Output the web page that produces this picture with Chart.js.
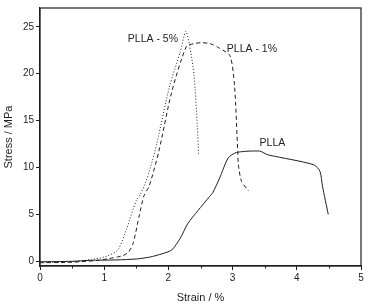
<!DOCTYPE html>
<html>
<head>
<meta charset="utf-8">
<script src="https://cdn.jsdelivr.net/npm/chart.js@4/dist/chart.umd.min.js"></script>
<style>
  html, body { margin: 0; padding: 0; background: #fff; }
  #wrap { width: 369px; height: 305px; }
</style>
</head>
<body>
<div id="wrap"><canvas id="stressChart"></canvas></div>
<script>
// stress-strain curves
const strainPlla5 = [0, 0.5, 0.8, 1.0, 1.21, 1.35, 1.5, 1.56, 1.65, 1.79, 2.02, 2.18, 2.27, 2.33, 2.40, 2.45, 2.47];
const stressPlla5 = [-0.1, -0.05, 0.2, 0.45, 1.2, 3.5, 6.5, 7.1, 8.5, 11.7, 18.7, 22.2, 24.5, 23.0, 19.8, 14.5, 11.4];

const strainPlla1 = [0, 0.5, 0.9, 1.08, 1.29, 1.38, 1.45, 1.55, 1.62, 1.7, 1.85, 2.05, 2.28, 2.40, 2.51, 2.65, 2.80, 2.96, 3.03, 3.08, 3.09, 3.14, 3.25];
const stressPlla1 = [-0.15, -0.1, 0.1, 0.3, 0.6, 1.0, 1.9, 5.0, 7.0, 8.0, 11.7, 18.0, 22.9, 23.2, 23.3, 23.2, 22.7, 21.9, 18.7, 11.7, 10.3, 8.5, 7.5];

const strainPlla = [0, 0.5, 0.77, 1.2, 1.5, 1.71, 1.9, 2.05, 2.18, 2.3, 2.46, 2.64, 2.69, 2.80, 2.93, 3.06, 3.42, 3.53, 3.58, 4.26, 4.36, 4.40, 4.49];
const stressPlla = [-0.05, 0, 0.1, 0.15, 0.25, 0.45, 0.8, 1.2, 2.4, 4.0, 5.4, 6.9, 7.3, 8.9, 11.0, 11.6, 11.75, 11.4, 11.3, 10.3, 9.6, 8.0, 5.0];

const seriesNames = ['PLLA - 5%', 'PLLA - 1%', 'PLLA'];
const xTicks = [0, 1, 2, 3, 4, 5];
const yTicks = [0, 5, 10, 15, 20, 25];

const ink = '#1e1e1e';
const font = "'Liberation Sans', Arial, sans-serif";

function pairs(xs, ys) {
    return xs.map((x, i) => ({ x: x, y: ys[i] }));
}

// frame, minor x ticks and the curve labels
const decorations = {
    id: 'decorations',
    afterDraw(chart) {
        const { ctx, chartArea: a, scales } = chart;
        ctx.save();
        ctx.strokeStyle = ink;
        ctx.lineWidth = 1.2;
        ctx.strokeRect(a.left, a.top, a.right - a.left, a.bottom - a.top);

        ctx.lineWidth = 1;
        for (let v = 0.5; v < 5; v += 1) {
            const px = Math.round(scales.x.getPixelForValue(v)) + 0.5;
            ctx.beginPath();
            ctx.moveTo(px, a.bottom);
            ctx.lineTo(px, a.bottom + 2.5);
            ctx.stroke();
        }

        ctx.fillStyle = ink;
        ctx.font = '10.5px ' + font;
        ctx.textBaseline = 'middle';
        const labels = [
            { text: seriesNames[0], x: 2.15, y: 23.7, align: 'right' },
            { text: seriesNames[1], x: 2.91, y: 22.6, align: 'left' },
            { text: seriesNames[2], x: 3.42, y: 12.6, align: 'left' }
        ];
        labels.forEach(l => {
            ctx.textAlign = l.align;
            ctx.fillText(l.text, scales.x.getPixelForValue(l.x), scales.y.getPixelForValue(l.y));
        });
        ctx.restore();
    }
};

const ctx = document.getElementById('stressChart').getContext('2d');

new Chart(ctx, {
    type: 'scatter',
    data: {
        datasets: [
            { label: seriesNames[0], data: pairs(strainPlla5, stressPlla5), borderDash: [1, 2] },
            { label: seriesNames[1], data: pairs(strainPlla1, stressPlla1), borderDash: [4, 3] },
            { label: seriesNames[2], data: pairs(strainPlla, stressPlla), borderDash: [] }
        ].map(d => Object.assign(d, {
            showLine: true,
            borderColor: ink,
            borderWidth: 1,
            pointRadius: 0,
            tension: 0.25,
            fill: false
        }))
    },
    options: {
        responsive: true,
        maintainAspectRatio: false,
        animation: false,
        layout: { padding: { top: 4, right: 8, left: 0, bottom: 0 } },
        plugins: { legend: { display: false }, tooltip: { enabled: false } },
        scales: {
            x: {
                type: 'linear',
                min: 0,
                max: 5,
                afterFit(scale) { scale.height = 39; },
                afterBuildTicks(scale) { scale.ticks = xTicks.map(v => ({ value: v })); },
                ticks: { color: ink, font: { family: font, size: 10 }, padding: 2, maxRotation: 0 },
                grid: { drawOnChartArea: false, tickLength: 4, color: ink, tickWidth: 1 },
                border: { color: ink, width: 1.2 },
                title: { display: true, text: 'Strain / %', color: ink, font: { family: font, size: 11 }, padding: { top: 5, bottom: 0 } }
            },
            y: {
                type: 'linear',
                min: -0.5,
                max: 27,
                afterFit(scale) { scale.width = 40; },
                afterBuildTicks(scale) { scale.ticks = yTicks.map(v => ({ value: v })); },
                ticks: { color: ink, font: { family: font, size: 10 }, padding: 2 },
                grid: { drawOnChartArea: false, tickLength: 4, color: ink, tickWidth: 1 },
                border: { color: ink, width: 1.2 },
                title: { display: true, text: 'Stress / MPa', color: ink, font: { family: font, size: 11 }, padding: { top: 2, bottom: 2 } }
            }
        }
    },
    plugins: [decorations]
});
</script>
</body>
</html>
